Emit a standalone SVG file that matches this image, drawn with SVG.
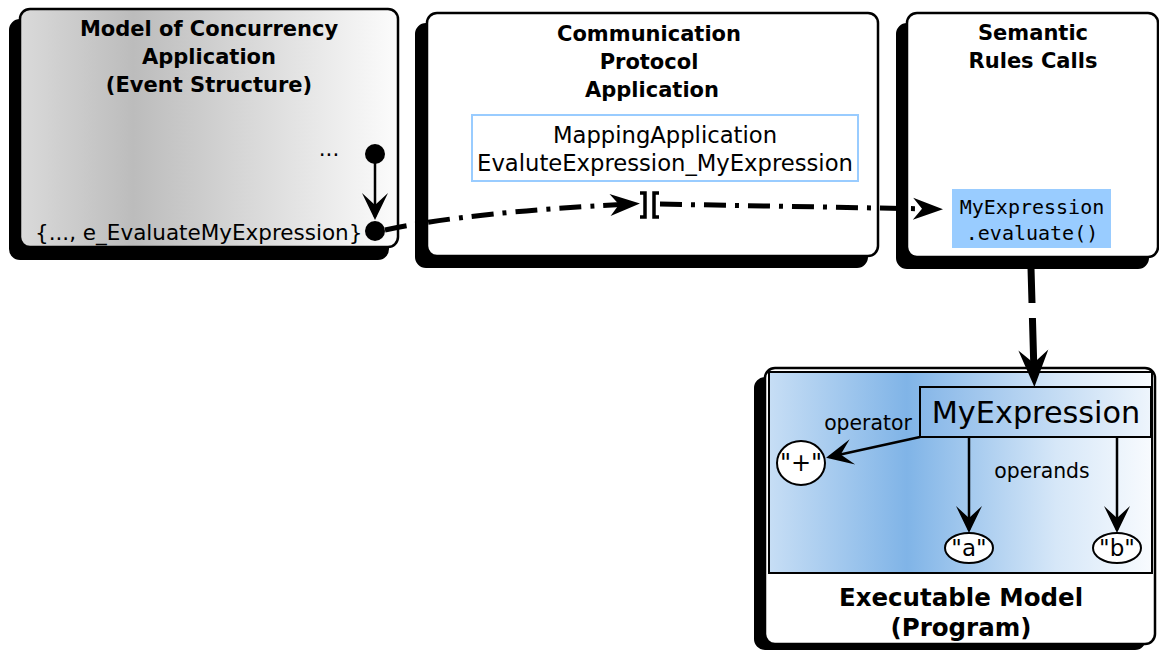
<svg xmlns="http://www.w3.org/2000/svg" width="1159" height="650" viewBox="0 0 1159 650">
<style>
.shadow{fill:#000;stroke:#000;stroke-width:2}
.front{stroke:#000;stroke-width:2.5}
.title{font-family:"DejaVu Sans",sans-serif;font-weight:bold;font-size:21px;text-anchor:middle;fill:#000}
.body{font-family:"DejaVu Sans",sans-serif;font-size:21.5px;fill:#000}
.mono{font-family:"DejaVu Sans Mono",monospace;font-size:20px;text-anchor:middle;fill:#000}
.lbl{font-family:"DejaVu Sans",sans-serif;font-size:20.4px;fill:#000;text-anchor:middle}
.dd{fill:none;stroke:#000;stroke-width:5;stroke-dasharray:22 9 4 9}
.thin{fill:none;stroke:#000;stroke-width:2.5}
</style>
<defs>
<linearGradient id="grey" x1="0" y1="0" x2="1" y2="0">
<stop offset="0" stop-color="#dadada"/>
<stop offset="0.3" stop-color="#bcbcbc"/>
<stop offset="1" stop-color="#fcfcfc"/>
</linearGradient>
<linearGradient id="blue" x1="0" y1="0" x2="1" y2="0">
<stop offset="0" stop-color="#c7def5"/>
<stop offset="0.36" stop-color="#80b4e7"/>
<stop offset="0.75" stop-color="#d6e7f8"/>
<stop offset="1" stop-color="#f8fbfe"/>
</linearGradient>
<linearGradient id="blue2" x1="0" y1="0" x2="1" y2="0">
<stop offset="0" stop-color="#87b7e8"/>
<stop offset="1" stop-color="#eef5fc"/>
</linearGradient>
<marker id="ahBig" viewBox="-32 -13 48 26" markerWidth="48" markerHeight="26" refX="-10" refY="0" markerUnits="userSpaceOnUse" orient="auto">
<path d="M0,0 L-30,-11 L-21,0 L-30,11 Z" fill="#000"/>
</marker>
<marker id="ahThick" viewBox="-40 -16 56 32" markerWidth="56" markerHeight="32" refX="-14" refY="0" markerUnits="userSpaceOnUse" orient="auto">
<path d="M0,0 L-37,-15 L-24,0 L-37,15 Z" fill="#000"/>
</marker>
<marker id="ahSmall" viewBox="-30 -15 34 30" markerWidth="34" markerHeight="30" refX="-3" refY="0" markerUnits="userSpaceOnUse" orient="auto">
<path d="M0,0 L-27,-13 L-15,0 L-27,13 Z" fill="#000"/>
</marker>
</defs>

<g id="moc">
<rect class="shadow" x="10" y="20" width="378" height="239" rx="10"/>
<rect class="front" x="20" y="9" width="378" height="238" rx="10" fill="url(#grey)"/>
<text class="title" x="209" y="36">Model of Concurrency</text>
<text class="title" x="209" y="64">Application</text>
<text class="title" x="209" y="92">(Event Structure)</text>
<text class="body" x="329" y="156" text-anchor="middle">...</text>
<text class="body" x="35" y="240">{..., e_EvaluateMyExpression}</text>
<circle cx="375" cy="154" r="10" fill="#000"/>
<circle cx="375" cy="231" r="10" fill="#000"/>
<line class="thin" x1="375" y1="160" x2="375" y2="217" marker-end="url(#ahSmall)"/>
</g>

<g id="cpa">
<rect class="shadow" x="416" y="24" width="451" height="243" rx="10"/>
<rect class="front" x="427" y="13" width="451" height="243" rx="10" fill="#fff"/>
<text class="title" x="649" y="41">Communication</text>
<text class="title" x="649" y="69">Protocol</text>
<text class="title" x="652" y="97">Application</text>
<rect x="472" y="115" width="386" height="66" fill="#fff" stroke="#99ccff" stroke-width="2"/>
<text class="body" x="665" y="143" text-anchor="middle" style="font-size:22.7px">MappingApplication</text>
<text class="body" x="665" y="171" text-anchor="middle" style="font-size:22.7px">EvaluteExpression_MyExpression</text>
</g>

<g id="src">
<rect class="shadow" x="897" y="24" width="251" height="244" rx="10"/>
<rect class="front" x="907" y="13" width="251" height="244" rx="10" fill="#fff"/>
<text class="title" x="1033" y="40">Semantic</text>
<text class="title" x="1033" y="68">Rules Calls</text>
<rect x="952" y="189" width="159" height="59" fill="#99ccff"/>
<text class="mono" x="1032" y="214">MyExpression</text>
<text class="mono" x="1032" y="240">.evaluate()</text>
</g>

<g id="exec">
<rect class="shadow" x="755" y="378" width="390" height="271" rx="10"/>
<rect class="front" x="765" y="368" width="390" height="276" rx="10" fill="#fff"/>
<rect x="769" y="372" width="383" height="201" fill="url(#blue)" stroke="#000" stroke-width="2"/>
<rect x="920" y="387" width="231" height="50" fill="url(#blue2)" stroke="#000" stroke-width="2"/>
<text class="body" x="1036" y="423" text-anchor="middle" style="font-size:30.3px">MyExpression</text>
<text class="lbl" x="868" y="430">operator</text>
<text class="lbl" x="1042" y="478">operands</text>
<ellipse cx="801" cy="463" rx="24" ry="22" fill="#fff" stroke="#000" stroke-width="2"/>
<text class="body" x="801" y="471" text-anchor="middle" style="font-size:24px">"+"</text>
<ellipse cx="969" cy="548" rx="24" ry="15" fill="#fff" stroke="#000" stroke-width="2"/>
<text class="body" x="969" y="556" text-anchor="middle" style="font-size:23px">"a"</text>
<ellipse cx="1117" cy="548" rx="24" ry="15" fill="#fff" stroke="#000" stroke-width="2"/>
<text class="body" x="1117" y="556" text-anchor="middle" style="font-size:23px">"b"</text>
<text class="title" x="961" y="606" style="font-size:24.5px">Executable Model</text>
<text class="title" x="961" y="636" style="font-size:24.5px">(Program)</text>
</g>

<g id="connectors">
<path class="dd" d="M385,230 Q470,212 630,204" marker-end="url(#ahBig)"/>
<path d="M640,193 h5 v24 h-5" fill="none" stroke="#000" stroke-width="3.5"/>
<path d="M659,193 h-5 v24 h5" fill="none" stroke="#000" stroke-width="3.5"/>
<path class="dd" d="M656,204 L933,209" marker-end="url(#ahBig)" style="stroke-dashoffset:-4"/>
<path d="M1031,268 L1034,373" fill="none" stroke="#000" stroke-width="7" stroke-dasharray="35 15 200" marker-end="url(#ahThick)"/>
<line class="thin" x1="920" y1="437" x2="829" y2="457" marker-end="url(#ahSmall)"/>
<line class="thin" x1="969" y1="437" x2="969" y2="530" marker-end="url(#ahSmall)"/>
<line class="thin" x1="1117" y1="437" x2="1117" y2="530" marker-end="url(#ahSmall)"/>
</g>
</svg>
